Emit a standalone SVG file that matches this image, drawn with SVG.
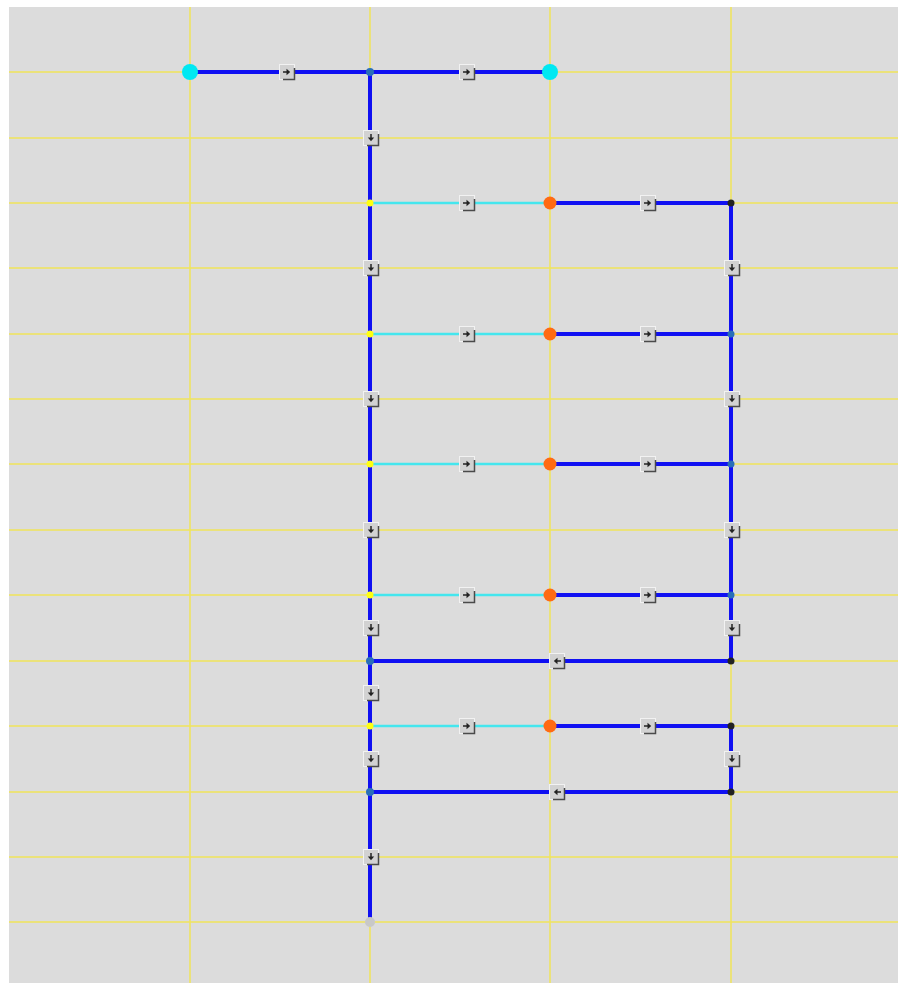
<svg xmlns="http://www.w3.org/2000/svg" xmlns:xlink="http://www.w3.org/1999/xlink" width="898" height="983" viewBox="0 0 898 983">
<style>
.grid{stroke:#f0e45a;stroke-width:1.5;fill:none}
.e{stroke:#1010f2;stroke-width:4;fill:none}
.c{stroke:#44e6ee;stroke-width:2.5;fill:none}
.box{fill:#d2d2d2;stroke:#f2f2f2;stroke-width:1}
.sh{stroke:#4a4a4a;stroke-width:1.5;fill:none}
.ar{fill:#222;stroke:#222;stroke-width:1.5}
</style>
<defs>
<g id="box">
<rect class="box" x="-7.5" y="-7.5" width="15" height="15"/>
<path class="sh" d="M7.5,-4 V7.5 H-4"/>
</g>
<g id="arr">
<line x1="-4" y1="0" x2="0" y2="0" class="ar"/>
<path d="M-0.5,-3.2 L3.2,0 L-0.5,3.2 Z" style="fill:#222"/>
</g>
</defs>
<rect x="0" y="0" width="898" height="983" fill="#ffffff"/>
<rect x="9" y="7" width="889" height="976" fill="#dcdcdc"/>
<g id="grid">
<line class="grid" x1="190" y1="7" x2="190" y2="983"/>
<line class="grid" x1="370" y1="7" x2="370" y2="983"/>
<line class="grid" x1="550" y1="7" x2="550" y2="983"/>
<line class="grid" x1="731" y1="7" x2="731" y2="983"/>
<line class="grid" x1="9" y1="72" x2="898" y2="72"/>
<line class="grid" x1="9" y1="138" x2="898" y2="138"/>
<line class="grid" x1="9" y1="203" x2="898" y2="203"/>
<line class="grid" x1="9" y1="268" x2="898" y2="268"/>
<line class="grid" x1="9" y1="334" x2="898" y2="334"/>
<line class="grid" x1="9" y1="399" x2="898" y2="399"/>
<line class="grid" x1="9" y1="464" x2="898" y2="464"/>
<line class="grid" x1="9" y1="530" x2="898" y2="530"/>
<line class="grid" x1="9" y1="595" x2="898" y2="595"/>
<line class="grid" x1="9" y1="661" x2="898" y2="661"/>
<line class="grid" x1="9" y1="726" x2="898" y2="726"/>
<line class="grid" x1="9" y1="792" x2="898" y2="792"/>
<line class="grid" x1="9" y1="857" x2="898" y2="857"/>
<line class="grid" x1="9" y1="922" x2="898" y2="922"/>
</g>
<g id="connectors">
<line class="e" x1="190" y1="72" x2="370" y2="72"/>
<line class="e" x1="370" y1="72" x2="550" y2="72"/>
<line class="e" x1="370" y1="72" x2="370" y2="922"/>
<line class="c" x1="370" y1="203" x2="550" y2="203"/>
<line class="c" x1="370" y1="334" x2="550" y2="334"/>
<line class="c" x1="370" y1="464" x2="550" y2="464"/>
<line class="c" x1="370" y1="595" x2="550" y2="595"/>
<line class="c" x1="370" y1="726" x2="550" y2="726"/>
<line class="e" x1="550" y1="203" x2="731" y2="203"/>
<line class="e" x1="550" y1="334" x2="731" y2="334"/>
<line class="e" x1="550" y1="464" x2="731" y2="464"/>
<line class="e" x1="550" y1="595" x2="731" y2="595"/>
<line class="e" x1="550" y1="726" x2="731" y2="726"/>
<line class="e" x1="731" y1="203" x2="731" y2="661"/>
<line class="e" x1="731" y1="661" x2="370" y2="661"/>
<line class="e" x1="731" y1="726" x2="731" y2="792"/>
<line class="e" x1="731" y1="792" x2="370" y2="792"/>
<!-- right-pointing markers -->
<g transform="translate(287,72)"><use href="#box"/><use href="#arr"/></g>
<g transform="translate(467,72)"><use href="#box"/><use href="#arr"/></g>
<g transform="translate(467,203)"><use href="#box"/><use href="#arr"/></g>
<g transform="translate(467,334)"><use href="#box"/><use href="#arr"/></g>
<g transform="translate(467,464)"><use href="#box"/><use href="#arr"/></g>
<g transform="translate(467,595)"><use href="#box"/><use href="#arr"/></g>
<g transform="translate(467,726)"><use href="#box"/><use href="#arr"/></g>
<g transform="translate(648,203)"><use href="#box"/><use href="#arr"/></g>
<g transform="translate(648,334)"><use href="#box"/><use href="#arr"/></g>
<g transform="translate(648,464)"><use href="#box"/><use href="#arr"/></g>
<g transform="translate(648,595)"><use href="#box"/><use href="#arr"/></g>
<g transform="translate(648,726)"><use href="#box"/><use href="#arr"/></g>
<!-- left-pointing markers -->
<g transform="translate(557,661)"><use href="#box"/><use href="#arr" transform="rotate(180)"/></g>
<g transform="translate(557,792)"><use href="#box"/><use href="#arr" transform="rotate(180)"/></g>
<!-- down-pointing markers -->
<g transform="translate(371,138)"><use href="#box"/><use href="#arr" transform="rotate(90)"/></g>
<g transform="translate(371,268)"><use href="#box"/><use href="#arr" transform="rotate(90)"/></g>
<g transform="translate(371,399)"><use href="#box"/><use href="#arr" transform="rotate(90)"/></g>
<g transform="translate(371,530)"><use href="#box"/><use href="#arr" transform="rotate(90)"/></g>
<g transform="translate(371,628)"><use href="#box"/><use href="#arr" transform="rotate(90)"/></g>
<g transform="translate(371,693)"><use href="#box"/><use href="#arr" transform="rotate(90)"/></g>
<g transform="translate(371,759)"><use href="#box"/><use href="#arr" transform="rotate(90)"/></g>
<g transform="translate(371,857)"><use href="#box"/><use href="#arr" transform="rotate(90)"/></g>
<g transform="translate(732,268)"><use href="#box"/><use href="#arr" transform="rotate(90)"/></g>
<g transform="translate(732,399)"><use href="#box"/><use href="#arr" transform="rotate(90)"/></g>
<g transform="translate(732,530)"><use href="#box"/><use href="#arr" transform="rotate(90)"/></g>
<g transform="translate(732,628)"><use href="#box"/><use href="#arr" transform="rotate(90)"/></g>
<g transform="translate(732,759)"><use href="#box"/><use href="#arr" transform="rotate(90)"/></g>
</g>
<g id="n-src1"><circle cx="190" cy="72" r="8" fill="#00e8f2"/></g>
<g id="n-src2"><circle cx="550" cy="72" r="8" fill="#00e8f2"/></g>
<g id="n-j0"><circle cx="370" cy="72" r="4" fill="#2a6fb8"/></g>
<g id="n-y1"><circle cx="370" cy="203" r="3.5" fill="#ffff10"/></g>
<g id="n-y2"><circle cx="370" cy="334" r="3.5" fill="#ffff10"/></g>
<g id="n-y3"><circle cx="370" cy="464" r="3.5" fill="#ffff10"/></g>
<g id="n-y4"><circle cx="370" cy="595" r="3.5" fill="#ffff10"/></g>
<g id="n-y5"><circle cx="370" cy="726" r="3.5" fill="#ffff10"/></g>
<g id="n-o1"><circle cx="550" cy="203" r="6.5" fill="#ff6a12"/></g>
<g id="n-o2"><circle cx="550" cy="334" r="6.5" fill="#ff6a12"/></g>
<g id="n-o3"><circle cx="550" cy="464" r="6.5" fill="#ff6a12"/></g>
<g id="n-o4"><circle cx="550" cy="595" r="6.5" fill="#ff6a12"/></g>
<g id="n-o5"><circle cx="550" cy="726" r="6.5" fill="#ff6a12"/></g>
<g id="n-r1"><circle cx="731" cy="203" r="3.5" fill="#222"/></g>
<g id="n-r2"><circle cx="731" cy="334" r="3.5" fill="#2a6fb8"/></g>
<g id="n-r3"><circle cx="731" cy="464" r="3.5" fill="#2a6fb8"/></g>
<g id="n-r4"><circle cx="731" cy="595" r="3.5" fill="#2a6fb8"/></g>
<g id="n-r5"><circle cx="731" cy="661" r="3.5" fill="#222"/></g>
<g id="n-r6"><circle cx="731" cy="726" r="3.5" fill="#222"/></g>
<g id="n-r7"><circle cx="731" cy="792" r="3.5" fill="#222"/></g>
<g id="n-l1"><circle cx="370" cy="661" r="4" fill="#2a6fb8"/></g>
<g id="n-l2"><circle cx="370" cy="792" r="4" fill="#2a6fb8"/></g>
<g id="n-end"><circle cx="370" cy="922" r="5" fill="#c8c8c8"/></g>
</svg>
